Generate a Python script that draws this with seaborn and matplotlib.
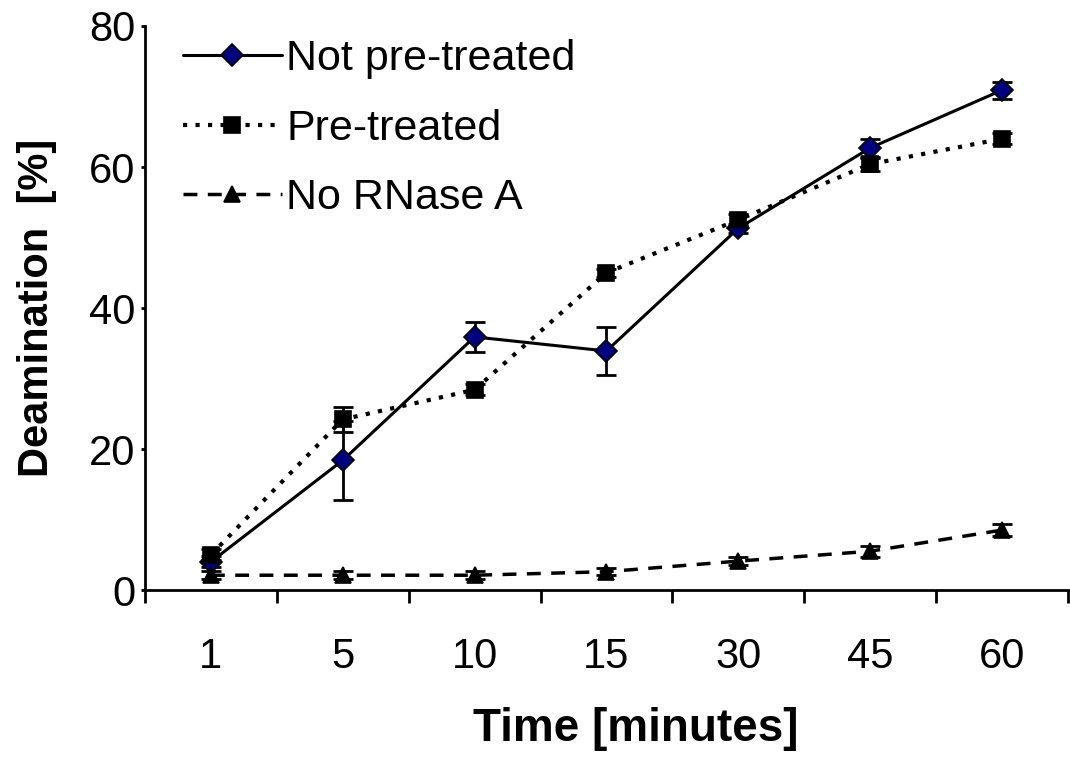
import numpy as np
import pandas as pd
import matplotlib
matplotlib.use("Agg")
import matplotlib.pyplot as plt
import seaborn as sns

times = ["1", "5", "10", "15", "30", "45", "60"]
not_pre = [4.0, 18.4, 35.9, 33.9, 51.3, 62.7, 70.9]
not_pre_err = [0.8, 5.6, 2.1, 3.4, 0.6, 1.3, 1.2]
pre = [5.0, 24.2, 28.4, 45.0, 52.5, 60.4, 64.0]
pre_err = [0.8, 1.8, 0.8, 0.6, 0.8, 0.9, 0.8]
no_rnase = [2.1, 2.1, 2.1, 2.6, 4.1, 5.5, 8.5]
no_rnase_err = [0.6, 0.6, 0.6, 0.5, 0.6, 0.8, 0.8]
labels = ["Not pre-treated", "Pre-treated", "No RNase A"]

sns.set_theme(style="white")
plt.rcParams['font.family'] = ['Liberation Sans', 'DejaVu Sans']
plt.rcParams['text.color'] = 'black'
plt.rcParams['axes.labelcolor'] = 'black'
plt.rcParams['xtick.color'] = 'black'
plt.rcParams['ytick.color'] = 'black'

x = np.arange(len(times))
df = pd.DataFrame({
    "x": np.tile(x, 3),
    "y": not_pre + pre + no_rnase,
    "series": np.repeat(labels, len(times)),
})

fig = plt.figure(figsize=(10.7, 7.58), dpi=100)
ax = fig.add_axes([0.1355, 0.2216, 0.8625, 0.7441])

styles = {
    labels[0]: dict(lw=2.2, marker="D", mfc="#000080", ms=11, dashes=None),
    labels[1]: dict(lw=3.0, marker="s", mfc="black", ms=11, dashes=(1, 2.0)),
    labels[2]: dict(lw=2.5, marker="^", mfc="black", ms=11, dashes=(4, 3)),
}
errs = {labels[0]: not_pre_err, labels[1]: pre_err, labels[2]: no_rnase_err}

for lab in labels:
    sub = df[df["series"] == lab]
    st = styles[lab]
    ax.errorbar(sub["x"], sub["y"], yerr=errs[lab], fmt="none", ecolor="black",
                elinewidth=2, capsize=7, capthick=2, zorder=2)
    sns.lineplot(x="x", y="y", data=sub, ax=ax, color="black", lw=st["lw"],
                 marker=st["marker"], markerfacecolor=st["mfc"], markeredgecolor="black",
                 markeredgewidth=1.2, markersize=st["ms"], label=lab, zorder=3)
    if st["dashes"] is not None:
        ax.lines[-1].set_dashes(st["dashes"])

ax.set_xlim(-0.5, 6.5)
ax.set_ylim(0, 80)
ax.set_yticks([0, 20, 40, 60, 80])
ax.set_xticks(np.arange(-0.5, 7.0, 1.0))
ax.set_xticklabels([])
ax.set_xticks(x, minor=True)
ax.set_xticklabels(times, minor=True)
ax.tick_params(axis="x", which="major", direction="out", length=9, width=2, bottom=True)
ax.tick_params(axis="x", which="minor", length=0, pad=34, labelsize=30)
ax.tick_params(axis="y", direction="out", length=3, width=2, left=True, labelsize=30, pad=4)

for s in ["top", "right"]:
    ax.spines[s].set_visible(False)
for s in ["left", "bottom"]:
    ax.spines[s].set_color("black")
    ax.spines[s].set_linewidth(2)

ax.set_xlabel("Time [minutes]", fontsize=33, fontweight="bold")
ax.xaxis.set_label_coords(0.532, -0.207)
ax.set_ylabel("Deamination  [%]", fontsize=30, fontweight="bold")
ax.yaxis.set_label_coords(-0.095, 0.5)

leg = ax.legend(loc="upper left", bbox_to_anchor=(0.041, 0.977), frameon=False, fontsize=31,
                handlelength=2.3, handletextpad=0.1, labelspacing=0.69,
                borderaxespad=0, borderpad=0)

fig.savefig("out.png", dpi=100)
